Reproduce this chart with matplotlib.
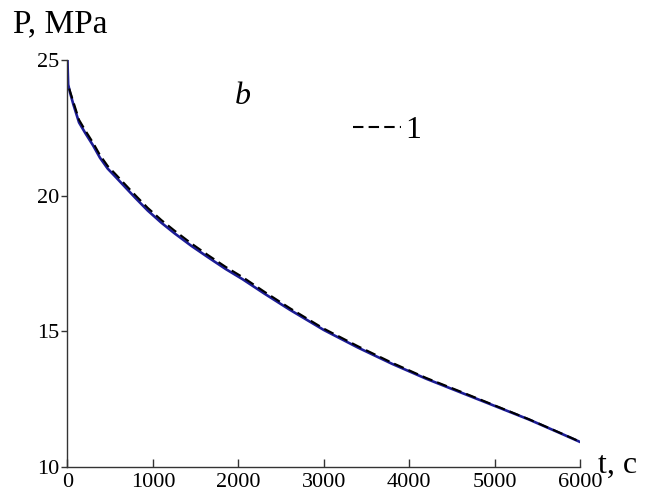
import matplotlib
matplotlib.use("Agg")
import matplotlib.pyplot as plt

# Pressure decline over time: calculated curve and curve 1
t_calc = [0, 3, 8, 30, 70, 135, 210, 300, 380, 470, 570, 680, 800, 940,
          1100, 1250, 1450, 1650, 1850, 2050, 2300, 2600, 3000, 3400, 3800,
          4200, 4600, 5000, 5400, 5800, 6000]
p_calc = [25.0, 24.6, 24.1, 23.8, 23.35, 22.7, 22.3, 21.85, 21.4, 21.0,
          20.67, 20.3, 19.9, 19.45, 19.0, 18.62, 18.15, 17.72, 17.3, 16.92,
          16.4, 15.8, 15.05, 14.4, 13.8, 13.25, 12.75, 12.25, 11.75, 11.2,
          10.92]

t_meas = [20, 70, 135, 210, 300, 380, 470, 570, 680, 800, 940, 1100, 1250,
          1450, 1650, 1850, 2050, 2300, 2600, 3000, 3400, 3800, 4200, 4600,
          5000, 5400, 5800, 6000]
p_meas = [23.95, 23.45, 22.8, 22.4, 21.95, 21.5, 21.1, 20.77, 20.4, 20.0,
          19.55, 19.1, 18.72, 18.24, 17.8, 17.38, 17.0, 16.47, 15.86, 15.1,
          14.45, 13.84, 13.28, 12.78, 12.27, 11.76, 11.21, 10.93]
meas_label = "1"

x_ticks = [0, 1000, 2000, 3000, 4000, 5000, 6000]
y_ticks = [10, 15, 20, 25]

serif = ["Liberation Serif", "DejaVu Serif"]
plt.rcParams["font.family"] = serif

fig = plt.figure(figsize=(6.49, 4.95), dpi=100)
ax = fig.add_axes([0.104, 0.0566, 0.790, 0.822])

ax.plot(t_calc, p_calc, color="#1c1c96", lw=1.9, solid_capstyle="round",
        solid_joinstyle="round")
ax.plot(t_meas, p_meas, color="black", lw=1.5, linestyle=(0, (5, 2.5)),
        label=meas_label)

ax.set_xlim(0, 6000)
ax.set_ylim(10, 25)
ax.set_xticks(x_ticks)
ax.set_yticks(y_ticks)
ax.set_xticklabels([str(v) for v in x_ticks])
ax.set_yticklabels([str(v) for v in y_ticks])

for side in ("top", "right"):
    ax.spines[side].set_visible(False)
for side in ("left", "bottom"):
    ax.spines[side].set_linewidth(1.0)
    ax.spines[side].set_color("#333333")

ax.tick_params(axis="x", direction="in", length=6, width=1.0,
               color="#333333", labelsize=16, pad=4)
ax.tick_params(axis="y", direction="out", length=4, width=1.0,
               color="#333333", labelsize=16, pad=2)

leg = ax.legend(loc="center left", bbox_to_anchor=(0.557, 0.828),
                frameon=False, fontsize=23, handlelength=1.5,
                handletextpad=0.12, borderpad=0, borderaxespad=0)

fig.text(0.02, 0.935, "P, MPa", fontsize=24, ha="left", va="baseline")
fig.text(0.921, 0.045, "t, c", fontsize=23, ha="left", va="baseline")
fig.text(0.362, 0.79, "b", fontsize=23, style="italic", ha="left",
         va="baseline")

fig.savefig("out.png", dpi=100)
